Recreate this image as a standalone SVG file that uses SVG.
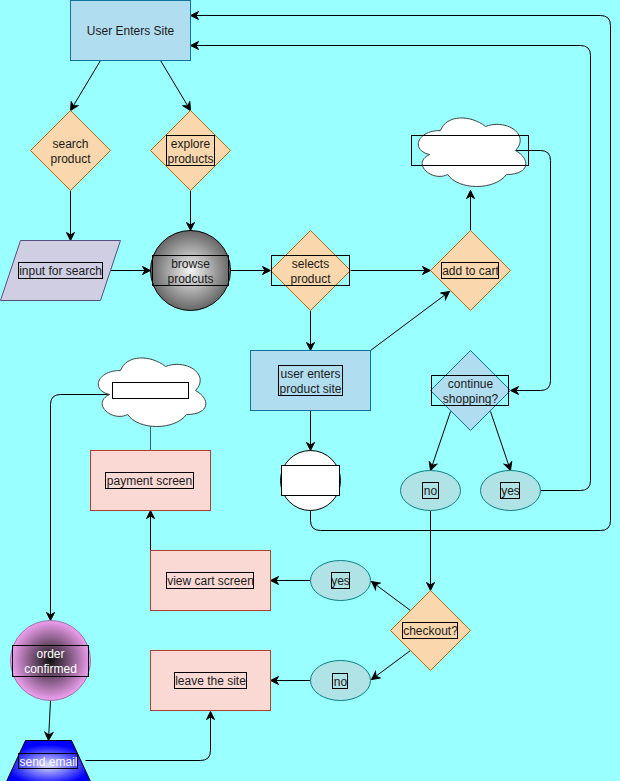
<svg xmlns="http://www.w3.org/2000/svg" xmlns:xlink="http://www.w3.org/1999/xlink" width="620" height="781" viewBox="0 0 620 781">
  <style>
    .t { font-family: "Liberation Sans", Arial, sans-serif; font-size: 12px; fill: #1a1a1a; text-anchor: middle; }
    .tw { font-family: "Liberation Sans", Arial, sans-serif; font-size: 12px; fill: #ffffff; text-anchor: middle; }
    .lb { fill: none; stroke: #000; stroke-width: 1; }
    .lbw { fill: #fff; stroke: #000; stroke-width: 1; }
    .dec { fill: #fad7ac; stroke: #b46504; stroke-width: 1; }
    .blue { fill: #b1ddf0; stroke: #10739e; stroke-width: 1; }
    .red { fill: #fad9d5; stroke: #ae4132; stroke-width: 1; }
    .ell { fill: #b0e3e6; stroke: #0e8088; stroke-width: 1; }
    .cloud { fill: #fff; stroke: #444; stroke-width: 1; }
    .edge { fill: none; stroke: #000; stroke-width: 1; }
    .arr { marker-end: url(#arrow); }
  </style>
  <defs>
    <marker id="arrow" markerUnits="userSpaceOnUse" markerWidth="10" markerHeight="10" refX="9" refY="5" orient="auto">
      <path d="M1,1 L9,5 L1,9 L3.5,5 Z" fill="#000" stroke="#000" stroke-width="1"/>
    </marker>
    <radialGradient id="gBrowse" cx="50%" cy="50%" r="50%">
      <stop offset="0" stop-color="#f5f5f5"/>
      <stop offset="1" stop-color="#666666"/>
    </radialGradient>
    <radialGradient id="gOrder" cx="50%" cy="50%" r="50%">
      <stop offset="0" stop-color="#111111"/>
      <stop offset="1" stop-color="#f0a0f0"/>
    </radialGradient>
    <radialGradient id="gMail" cx="50%" cy="60%" r="50%">
      <stop offset="0" stop-color="#e0e0ff"/>
      <stop offset="1" stop-color="#0000ff"/>
    </radialGradient>
    <path id="cloudShape" d="M30,20 C6,20 0,40 19.2,44 C0,52.8 21.6,72 37.2,64 C48,80 84,80 96,64 C120,64 120,48 105,40 C120,24 96,8 75,16 C60,4 36,4 30,20 Z"/>
  </defs>

  <rect x="0" y="0" width="620" height="781" fill="#99ffff"/>

  <!-- half-pixel shift keeps 1px strokes crisp -->
  <g transform="translate(0.5,0.5)">
  <!-- connectors -->
  <g id="connectors">
    <path class="edge arr" d="M100,60 L70,110"/>
    <path class="edge arr" d="M160,60 L190,110"/>
    <path class="edge arr" d="M70,190 L70,240"/>
    <path class="edge arr" d="M190,190 L190,230"/>
    <path class="edge arr" d="M110,270 L150,270"/>
    <path class="edge arr" d="M230,270 L270,270"/>
    <path class="edge arr" d="M350,270 L430,270"/>
    <path class="edge arr" d="M470,230 L470,190"/>
    <path class="edge arr" d="M515,150 L540,150 Q550,150 550,160 L550,380 Q550,390 540,390 L510,390"/>
    <path class="edge arr" d="M310,310 L310,350"/>
    <path class="edge arr" d="M370,350 L449,291"/>
    <path class="edge arr" d="M310,410 L310,450"/>
    <path class="edge arr" d="M450,411 L430,470"/>
    <path class="edge arr" d="M490,411 L510,470"/>
    <path class="edge arr" d="M540,490 L580,490 Q590,490 590,480 L590,55 Q590,45 580,45 L190,45"/>
    <path class="edge arr" d="M310,510 L310,520 Q310,530 320,530 L600,530 Q610,530 610,520 L610,25 Q610,15 600,15 L190,15"/>
    <path class="edge arr" d="M430,510 L430,590"/>
    <path class="edge arr" d="M410,610 L371,581"/>
    <path class="edge arr" d="M410,650 L371,679"/>
    <path class="edge arr" d="M310,580 L270,580"/>
    <path class="edge arr" d="M310,680 L270,680"/>
    <path class="edge arr" d="M150,550 L150,510"/>
    <path d="M150,450 L150,426" fill="none" stroke="#336666" stroke-width="1"/>
    <path class="edge arr" d="M109,394 L60,394 Q50,394 50,404 L50,620"/>
    <path class="edge arr" d="M50,700 L48,740"/>
    <path class="edge arr" d="M85,760 L200,760 Q210,760 210,750 L210,711"/>
  </g>

  <!-- nodes -->
  <g id="userEntersSite">
    <rect class="blue" x="70" y="0" width="120" height="60"/>
    <text class="t" x="130" y="34">User Enters Site</text>
  </g>

  <g id="searchProduct">
    <polygon class="dec" points="70,110 110,150 70,190 30,150"/>
    <text class="t" x="70" y="147">search</text>
    <text class="t" x="70" y="162">product</text>
  </g>

  <g id="exploreProducts">
    <polygon class="dec" points="190,110 230,150 190,190 150,150"/>
    <rect class="lb" x="166" y="135" width="48" height="30"/>
    <text class="t" x="190" y="147">explore</text>
    <text class="t" x="190" y="162">products</text>
  </g>

  <g id="inputForSearch">
    <polygon points="20,240 120,240 100,300 0,300" fill="#d0cee2" stroke="#56517e" stroke-width="1"/>
    <rect class="lb" x="18" y="262" width="84" height="16"/>
    <text class="t" x="60" y="274">input for search</text>
  </g>

  <g id="browseProducts">
    <circle cx="190" cy="270" r="40" fill="url(#gBrowse)" stroke="#000" stroke-width="1"/>
    <rect class="lb" x="152" y="255" width="76" height="30"/>
    <text class="t" x="190" y="267">browse</text>
    <text class="t" x="190" y="282">prodcuts</text>
  </g>

  <g id="selectsProduct">
    <polygon class="dec" points="310,230 350,270 310,310 270,270"/>
    <rect class="lb" x="271" y="255" width="78" height="30"/>
    <text class="t" x="310" y="267">selects</text>
    <text class="t" x="310" y="282">product</text>
  </g>

  <g id="addToCart">
    <polygon class="dec" points="470,230 510,270 470,310 430,270"/>
    <rect class="lb" x="441" y="262" width="57" height="16"/>
    <text class="t" x="470" y="274">add to cart</text>
  </g>

  <g id="cartCloud">
    <use xlink:href="#cloudShape" href="#cloudShape" x="410" y="110" class="cloud"/>
    <rect class="lb" x="411" y="135" width="117" height="30"/>
  </g>

  <g id="userEntersProductSite">
    <rect class="blue" x="250" y="350" width="120" height="60"/>
    <rect class="lb" x="278" y="365" width="64" height="30"/>
    <text class="t" x="310" y="377">user enters</text>
    <text class="t" x="310" y="392">product site</text>
  </g>

  <g id="continueShopping">
    <polygon class="blue" points="470,350 510,390 470,430 430,390"/>
    <rect class="lb" x="431" y="375" width="77" height="30"/>
    <text class="t" x="470" y="387">continue</text>
    <text class="t" x="470" y="402">shopping?</text>
  </g>

  <g id="productCircle">
    <circle cx="310" cy="480" r="30" fill="#fff" stroke="#000" stroke-width="1"/>
    <rect class="lbw" x="281" y="465" width="58" height="30"/>
  </g>

  <g id="continueNo">
    <ellipse class="ell" cx="430" cy="490" rx="30" ry="20"/>
    <rect class="lb" x="422" y="482" width="16" height="16"/>
    <text class="t" x="430" y="494">no</text>
  </g>

  <g id="continueYes">
    <ellipse class="ell" cx="510" cy="490" rx="30" ry="20"/>
    <rect class="lb" x="500" y="482" width="19" height="16"/>
    <text class="t" x="510" y="494">yes</text>
  </g>

  <g id="checkout">
    <polygon class="dec" points="430,590 470,630 430,670 390,630"/>
    <rect class="lb" x="402" y="622" width="55" height="16"/>
    <text class="t" x="430" y="634">checkout?</text>
  </g>

  <g id="checkoutYes">
    <ellipse class="ell" cx="340" cy="580" rx="30" ry="20"/>
    <rect class="lb" x="331" y="572" width="18" height="16"/>
    <text class="t" x="340" y="584">yes</text>
  </g>

  <g id="checkoutNo">
    <ellipse class="ell" cx="340" cy="680" rx="30" ry="20"/>
    <rect class="lb" x="332" y="673" width="15" height="15"/>
    <text class="t" x="340" y="685">no</text>
  </g>

  <g id="viewCartScreen">
    <rect class="red" x="150" y="550" width="120" height="60"/>
    <rect class="lb" x="166" y="572" width="87" height="16"/>
    <text class="t" x="210" y="584">view cart screen</text>
  </g>

  <g id="leaveTheSite">
    <rect class="red" x="150" y="650" width="120" height="60"/>
    <rect class="lb" x="174" y="672" width="72" height="16"/>
    <text class="t" x="210" y="684">leave the site</text>
  </g>

  <g id="paymentScreen">
    <rect class="red" x="90" y="450" width="120" height="60"/>
    <rect class="lb" x="105" y="472" width="88" height="16"/>
    <text class="t" x="149" y="484">payment screen</text>
  </g>

  <g id="paymentCloud">
    <use xlink:href="#cloudShape" href="#cloudShape" x="90" y="350" class="cloud"/>
    <rect class="lbw" x="112" y="382" width="76" height="16"/>
  </g>

  <g id="orderConfirmed">
    <circle cx="50" cy="660" r="40" fill="url(#gOrder)" stroke="#9673a6" stroke-width="1"/>
    <rect class="lb" x="12" y="645" width="76" height="31"/>
    <text class="tw" x="50" y="657">order</text>
    <text class="tw" x="50" y="672">confirmed</text>
  </g>

  <g id="sendEmail">
    <polygon points="25,740 71,740 90,781 6,781" fill="url(#gMail)" stroke="#000" stroke-width="1"/>
    <rect class="lb" x="18" y="753" width="59" height="15"/>
    <text class="tw" x="48" y="765">send email</text>
  </g>
  </g>
</svg>
